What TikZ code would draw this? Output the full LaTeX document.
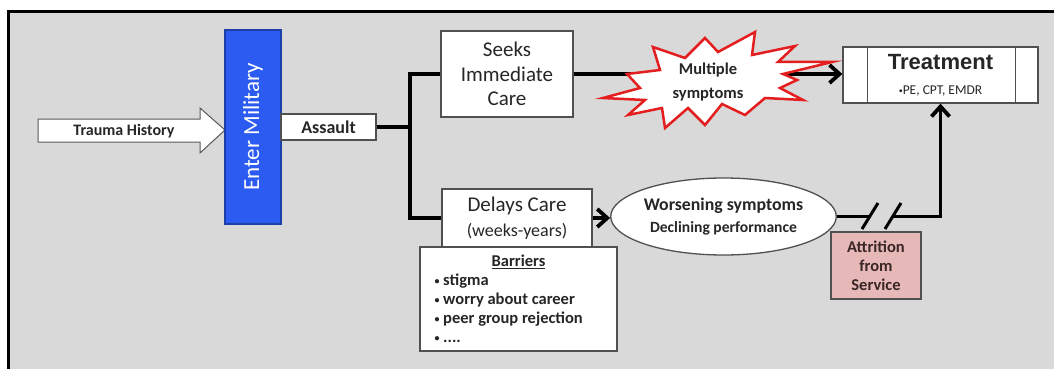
\documentclass[tikz,border=0pt]{standalone}
\usepackage{fontspec}
\setmainfont{Carlito}
\newfontfamily\arialfont{Liberation Sans}
\usetikzlibrary{shapes.geometric,arrows.meta}
\definecolor{bggray}{HTML}{D9D9D9}
\definecolor{milblue}{HTML}{2B5BF0}
\definecolor{milborder}{HTML}{1C3FA8}
\definecolor{boxborder}{HTML}{505050}
\definecolor{txt}{HTML}{262626}
\definecolor{attrpink}{HTML}{E6B9B8}
\definecolor{attrtext}{HTML}{3A2626}
\definecolor{starred}{HTML}{E41E1E}
\newcommand{\smbul}{{\fontsize{10}{10}\selectfont\raisebox{0.25ex}{•}}}
\begin{document}
\begin{tikzpicture}[x=1pt,y=-1pt,
  box/.style={draw=boxborder, line width=1.3pt, fill=white, inner sep=0pt, text=txt, align=center},
  conn/.style={line width=3.8pt, line join=miter},
  arr/.style={conn, -{Straight Barb[length=10pt,width=18pt]}}]
\useasboundingbox (0,0) rectangle (1054,369);
% frame
\fill[bggray] (8,12) rectangle (1060,375);
\draw[line width=3pt] (8,372) -- (8,12) -- (1058,12);
% trauma history arrow
\draw[draw=gray!70!black, line width=1pt, fill=white, line join=miter]
  (38,119) -- (200,119) -- (200,108) -- (225,130) -- (200,153) -- (200,142) -- (38,142) -- cycle;
\node[font=\fontsize{16}{18}\selectfont\bfseries, text=txt] (trauma) at (124,131) {Trauma History};
% enter military
\node[draw=milborder, fill=milblue, line width=1.3pt, minimum width=56pt, minimum height=194pt, inner sep=0pt] (mil) at (253,127) {};
\node[rotate=90, text=white, font=\fontsize{23}{26}\selectfont] (miltext) at (mil.center) {Enter Military};
% assault
\node[box, minimum width=95pt, minimum height=26pt, font=\fontsize{18}{20}\selectfont\bfseries] (assault) at (328.5,127) {Assault};
% seeks
\node[box, minimum width=132pt, minimum height=86pt, font=\fontsize{21}{24.5}\selectfont] (seeks) at (507,74) {Seeks\\Immediate\\Care};
% delays
\node[box, minimum width=150pt, minimum height=58pt, font=\fontsize{21}{25}\selectfont] (delays) at (517,218) {Delays Care\\{\fontsize{18}{25}\selectfont (weeks-years)}};
% barriers
\node[box, minimum width=197pt, minimum height=104pt, font=\fontsize{16.5}{19}\selectfont\bfseries] (barr) at (518.5,299)
  {\begin{minipage}{168pt}\centering\underline{Barriers}\par\raggedright
   \smbul\ stigma\\
   \smbul\ worry about career\\
   \smbul\ peer group rejection\\
   \smbul\ ....\end{minipage}};
% treatment
\node[box, minimum width=195pt, minimum height=56pt, font=\fontsize{13.5}{25}\selectfont] (treat) at (940.5,75)
  {{\arialfont\bfseries\fontsize{22}{25}\selectfont Treatment}\\{\fontsize{8}{8}\selectfont\raisebox{0.3ex}{•}}PE, CPT, EMDR};
\draw[boxborder, line width=1.3pt] ([xshift=25pt]treat.north west) -- ([xshift=25pt]treat.south west);
\draw[boxborder, line width=1.3pt] ([xshift=-23pt]treat.north east) -- ([xshift=-23pt]treat.south east);
% ellipse
\node[ellipse, draw=boxborder, line width=1.3pt, fill=white, minimum width=213pt, minimum height=77pt, inner sep=0pt,
  align=center, text=txt, font=\fontsize{15.6}{22}\selectfont\bfseries] (ell) at (723.5,216.5)
  {{\fontsize{17.8}{22}\selectfont Worsening symptoms}\\Declining performance};
% attrition
\node[box, fill=attrpink, minimum width=90pt, minimum height=67pt, font=\fontsize{16.5}{19}\selectfont\bfseries, text=attrtext] (attr) at (876,265.5)
  {Attrition\\from\\Service};
% connectors
\coordinate (j) at (410,127);
\draw[conn] (assault.east) -- (j);
\draw[conn] (seeks.west) -| (j) |- (delays.west);
\draw[arr] (seeks.east) -- (seeks.east -| treat.west);
\draw[arr] (delays.east) -- (delays.east -| ell.west);
\coordinate (b1) at (870,216.5);
\coordinate (b2) at (893,216.5);
\draw[conn] (ell.east) -- (b1);
\draw[arr] (b2) -| (treat.south);
\draw[line width=3pt] (862,229) -- (878,203);
\draw[line width=3pt] (885,229) -- (901,203);
% star
\draw[starred, line width=2.5pt, fill=white, line join=miter]
  (603,98) -- (640,88) -- (627,74) -- (660,70) -- (653,47) -- (685,58) -- (705,38) -- (718,52)
  -- (755,32) -- (752,55) -- (795,46) -- (778,62) -- (832,62) -- (783,74) -- (797,80) -- (780,88)
  -- (803,100) -- (765,98) -- (745,115) -- (722,104) -- (705,125) -- (688,108) -- (665,128)
  -- (662,108) -- (628,115) -- (645,100) -- cycle;
\node[font=\fontsize{16.5}{24}\selectfont\bfseries, text=txt, align=center] (mult) at (708,82) {Multiple\\symptoms};
\end{tikzpicture}
\end{document}
